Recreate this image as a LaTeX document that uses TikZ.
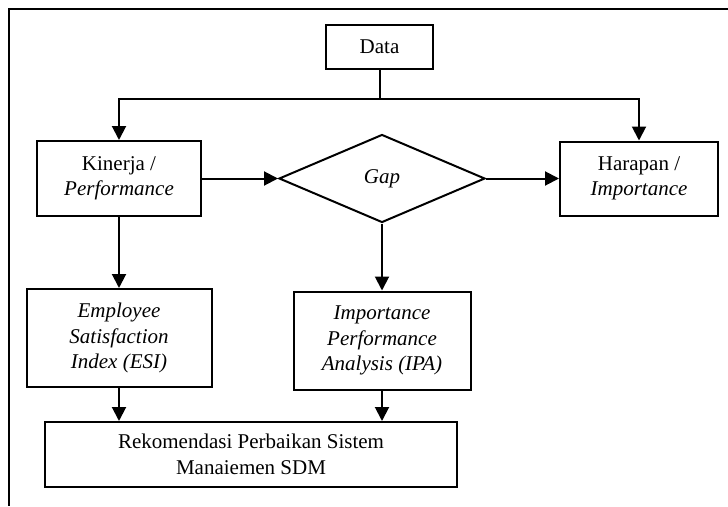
\documentclass[tikz,border=0pt]{standalone}
\usepackage{fontspec}
\setmainfont{Liberation Serif}
\usetikzlibrary{positioning,arrows.meta,shapes.geometric}

\begin{document}
\begin{tikzpicture}[x=1pt,y=-1pt,
    box/.style={draw,line width=2pt,align=center,inner sep=0pt,
      font=\fontsize{21}{25.5}\selectfont},
    decision/.style={draw,diamond,line width=2pt,inner sep=0pt,
      minimum width=206pt,minimum height=88pt,font=\fontsize{21}{25.5}\selectfont},
    flow/.style={-{Triangle[length=14pt,width=14pt]},line width=2pt}]

  \useasboundingbox (0,0) rectangle (728,506);

  % Frame
  \node [coordinate] (tl) at (9,9) {};
  \node [coordinate] (tr) at (728,9) {};
  \node [coordinate] (bl) at (9,506) {};
  \draw [line width=1.6pt] (tr) -- (tl) -- (bl);

  % Data
  \node [box,minimum width=107pt,minimum height=44pt] (data) at (379.5,47) {Data};
  \node [coordinate,below=29pt of data.south] (split) {};

  % Kinerja, Gap, Harapan
  \node [box,minimum width=164pt,minimum height=75pt] (kinerja) at (119,178.5)
    {Kinerja /\\\textit{Performance}};
  \node [decision,right=76pt of kinerja] (gap) {\textit{Gap}};
  \node [box,minimum width=158pt,minimum height=74pt,right=73pt of gap] (harapan)
    {Harapan /\\\textit{Importance}};

  % ESI and IPA
  \node [box,minimum width=185pt,minimum height=98pt,below=71pt of kinerja] (esi)
    {\textit{Employee}\\\textit{Satisfaction}\\\textit{Index (ESI)}};
  \node [box,minimum width=177pt,minimum height=98pt,below=67pt of gap] (ipa)
    {\textit{Importance}\\\textit{Performance}\\\textit{Analysis (IPA)}};

  % Rekomendasi
  \node [box,minimum width=412pt,minimum height=65pt] (rek) at (251,454.5)
    {Rekomendasi Perbaikan Sistem\\Manaiemen SDM};

  % Connectors
  \draw [line width=2pt] (data) -- (split);
  \draw [flow] (split) -| (kinerja);
  \draw [flow] (split) -| (harapan);
  \draw [flow] (kinerja) -- (gap);
  \draw [flow] (gap) -- (harapan);
  \draw [flow] (kinerja) -- (esi);
  \draw [flow] (gap) -- (ipa);
  \draw [flow] (esi) -- (esi |- rek.north);
  \draw [flow] (ipa) -- (ipa |- rek.north);

\end{tikzpicture}
\end{document}
